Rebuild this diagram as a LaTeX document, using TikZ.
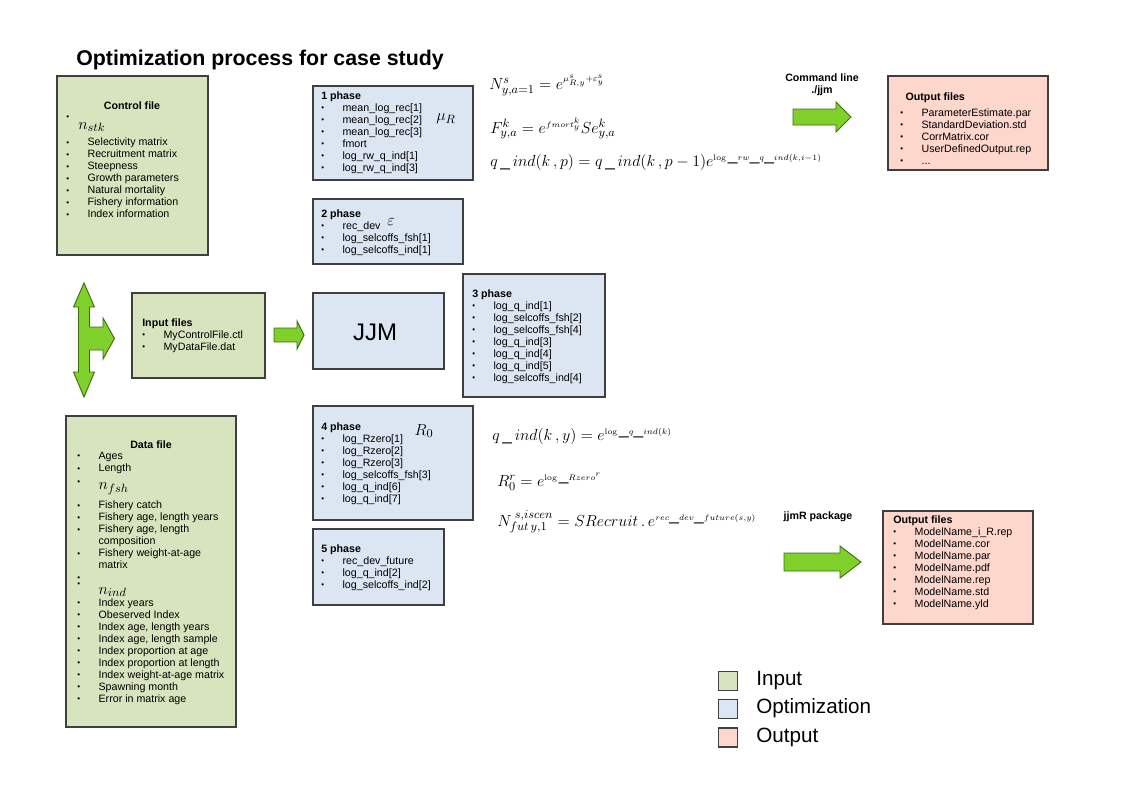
\documentclass[tikz,border=0pt]{standalone}
\usepackage[no-math]{fontspec}
\setmainfont{Liberation Sans}
\usetikzlibrary{fit}
\definecolor{ingreen}{HTML}{D7E4BD}
\definecolor{optblue}{HTML}{DCE6F2}
\definecolor{outpink}{HTML}{FDD6CC}
\definecolor{arrowfill}{HTML}{7FD02A}
\definecolor{arrowline}{HTML}{3D6E12}
\definecolor{boxline}{HTML}{3F3F3F}
\newcommand{\itm}[1]{\makebox[16pt][l]{\raisebox{.3pt}{\scalebox{.75}{\textbullet}}}#1}
\newcommand{\blt}[1]{\makebox[16pt][l]{\raisebox{#1}{\scalebox{.75}{\textbullet}}}}
\newcommand{\nsym}[1]{{\fontsize{13}{13}\selectfont$#1$}}
\newcommand{\ex}[1]{e^{\scriptscriptstyle #1}}

\begin{document}
\begin{tikzpicture}[x=0.75pt,y=-0.75pt,
	filebox/.style={draw=boxline,line width=0.9pt,inner sep=0pt},
	inbox/.style={filebox,fill=ingreen},
	optbox/.style={filebox,fill=optblue},
	outbox/.style={filebox,fill=outpink},
	% lists are placed by the baseline of their last line
	list/.style={anchor=base west,align=left,inner sep=0pt,font=\fontsize{8}{9}\selectfont},
	head/.style={anchor=base,align=center,inner sep=0pt,font=\bfseries\fontsize{8}{9}\selectfont},
	eq/.style={anchor=base west,inner sep=0pt,font=\fontsize{13}{13}\selectfont},
	sym/.style={inner sep=0pt,font=\fontsize{13}{13}\selectfont},
	fatarrow/.style={draw=arrowline,fill=arrowfill,line width=0.7pt,line join=miter},
	legsq/.style={minimum size=14.25pt},
	legtext/.style={anchor=base west,inner sep=0pt,font=\fontsize{15.5}{15.5}\selectfont}]
	\useasboundingbox (0,0) rectangle (1123,794);

	\node[anchor=base west,inner sep=0pt,font=\bfseries\fontsize{16}{16}\selectfont] (title) at (76,65) {Optimization process for case study};

	% input files
	\node[inbox,fit={(57,76) (208,255)}] (ctl) {};
	\node[head] (ctl-t) at (132,109) {Control file};
	\node[list] (ctl-l) at (66,217.7) {\blt{6.9pt}\hspace{-7pt}\nsym{n_{stk}}\\[3.5pt]
		\itm{Selectivity matrix}\\ \itm{Recruitment matrix}\\ \itm{Steepness}\\ \itm{Growth parameters}\\
		\itm{Natural mortality}\\ \itm{Fishery information}\\ \itm{Index information}};

	\node[inbox,fit={(66,416) (236,727)}] (dat) {};
	\node[head] (dat-t) at (151,448) {Data file};
	\node[list] (dat-l) at (77,702) {\itm{Ages}\\ \itm{Length}\\[4.8pt]
		\blt{3.9pt}\nsym{n_{fsh}}\\[3.5pt]
		\itm{Fishery catch}\\ \itm{Fishery age, length years}\\ \itm{Fishery age, length}\\ \hspace*{16pt}composition\\
		\itm{Fishery weight-at-age}\\ \hspace*{16pt}matrix\\ \itm{}\\[1pt]
		\blt{5.7pt}\nsym{n_{ind}}\\
		\itm{Index years}\\ \itm{Obeserved Index}\\ \itm{Index age, length years}\\ \itm{Index age, length sample}\\
		\itm{Index proportion at age}\\ \itm{Index proportion at length}\\ \itm{Index weight-at-age matrix}\\
		\itm{Spawning month}\\ \itm{Error in matrix age}};

	\node[inbox,fit={(132,293) (265,378)}] (inp) {};
	\node[list] (inp-l) at (142,350) {\textbf{Input files}\\ \itm{MyControlFile.ctl}\\ \itm{MyDataFile.dat}};

	% optimization
	\node[optbox,fit={(313,293) (444,369)}] (jjm) {};
	\node[inner sep=0pt,font=\fontsize{18}{18}\selectfont] (jjm-t) at (375,332) {JJM};

	\node[optbox,fit={(313,86) (473,180)}] (ph1) {};
	\node[list] (ph1-l) at (321,171) {\textbf{1 phase}\\ \itm{mean\_log\_rec[1]}\\ \itm{mean\_log\_rec[2]}\\ \itm{mean\_log\_rec[3]}\\
		\itm{fmort}\\ \itm{log\_rw\_q\_ind[1]}\\ \itm{log\_rw\_q\_ind[3]}};
	\node[sym] (ph1-s) at (446,119) {$\mu_R$};

	\node[optbox,fit={(313,199) (463,264)}] (ph2) {};
	\node[list] (ph2-l) at (321,253) {\textbf{2 phase}\\ \itm{rec\_dev}\\ \itm{log\_selcoffs\_fsh[1]}\\ \itm{log\_selcoffs\_ind[1]}};
	\node[sym] (ph2-s) at (391,222) {$\varepsilon$};

	\node[optbox,fit={(463,274) (605,397)}] (ph3) {};
	\node[list] (ph3-l) at (472,381) {\textbf{3 phase}\\ \itm{log\_q\_ind[1]}\\ \itm{log\_selcoffs\_fsh[2]}\\ \itm{log\_selcoffs\_fsh[4]}\\
		\itm{log\_q\_ind[3]}\\ \itm{log\_q\_ind[4]}\\ \itm{log\_q\_ind[5]}\\ \itm{log\_selcoffs\_ind[4]}};

	\node[optbox,fit={(313,406) (473,520)}] (ph4) {};
	\node[list] (ph4-l) at (321,502) {\textbf{4 phase}\\ \itm{log\_Rzero[1]}\\ \itm{log\_Rzero[2]}\\ \itm{log\_Rzero[3]}\\
		\itm{log\_selcoffs\_fsh[3]}\\ \itm{log\_q\_ind[6]}\\ \itm{log\_q\_ind[7]}};
	\node[sym] (ph4-s) at (424,431) {$R_0$};

	\node[optbox,fit={(313,529) (444,605)}] (ph5) {};
	\node[list] (ph5-l) at (321,588) {\textbf{5 phase}\\ \itm{rec\_dev\_future}\\ \itm{log\_q\_ind[2]}\\ \itm{log\_selcoffs\_ind[2]}};

	% equations
	\node[eq] (eq1) at (489,89) {$N^{s}_{y,a=1}=\ex{\mu^{s}_{R,y}+\varepsilon^{s}_{y}}$};
	\node[eq] (eq2) at (490,133) {$F^{k}_{y,a}=\ex{fmort^{k}_{y}}Se^{k}_{y,a}$};
	\node[eq] (eq3) at (490,166) {$q\,\_\,ind(k\,,p)=q\,\_\,ind(k\,,p-1)\ex{\log\_rw\_q\_ind(k,i-1)}$};
	\node[eq] (eq4) at (492,440) {$q\,\_\,ind(k\,,y)=\ex{\log\_q\_ind(k)}$};
	\node[eq] (eq5) at (497,486) {$R^{r}_{0}=\ex{\log\_Rzero^{r}}$};
	\node[eq] (eq6) at (497,526) {$N_{fut\,y,1}^{\;s,iscen}=SRecruit\,.\,\ex{rec\_dev\_future(s,y)}$};

	% output files
	\node[head] (cmd) at (822,93) {Command line\\./jjm};
	\node[outbox,fit={(888,76) (1048,170)}] (outa) {};
	\node[list] (outa-l) at (900,164) {\hspace*{4pt}\textbf{Output files}\\[2.3pt] \itm{ParameterEstimate.par}\\ \itm{StandardDeviation.std}\\
		\itm{CorrMatrix.cor}\\ \itm{UserDefinedOutput.rep}\\ \itm{...}};

	\node[head] (jjmr) at (818,519) {jjmR package};
	\node[outbox,fit={(883,511) (1033,624)}] (outb) {};
	\node[list] (outb-l) at (893,607) {\textbf{Output files}\\ \itm{ModelName\_i\_R.rep}\\ \itm{ModelName.cor}\\ \itm{ModelName.par}\\
		\itm{ModelName.pdf}\\ \itm{ModelName.rep}\\ \itm{ModelName.std}\\ \itm{ModelName.yld}};

	% block arrows
	\draw[fatarrow] (84,283) -- (94.5,307) -- (89.5,307) -- (89.5,327) -- (103,327) -- (103,318) -- (114.5,338.5)
		-- (103,359) -- (103,350) -- (89.5,350) -- (89.5,372) -- (94.5,372) -- (84,397) -- (73.5,372)
		-- (78.5,372) -- (78.5,307) -- (73.5,307) -- cycle;
	\draw[fatarrow] (274,328) -- (297,328) -- (297,321) -- (304,335) -- (297,349) -- (297,342) -- (274,342) -- cycle;
	\draw[fatarrow] (793,109) -- (836,109) -- (836,102) -- (851,117) -- (836,132) -- (836,125) -- (793,125) -- cycle;
	\draw[fatarrow] (784,553) -- (840,553) -- (840,546) -- (861,562) -- (840,578) -- (840,571) -- (784,571) -- cycle;

	% legend
	\node[inbox,legsq] (leg-in) at (728,681) {};
	\node[optbox,legsq] (leg-opt) at (728,709) {};
	\node[outbox,legsq] (leg-out) at (728,737.5) {};
	\node[legtext] (leg-in-t) at (756,685) {Input};
	\node[legtext] (leg-opt-t) at (756,713.5) {Optimization};
	\node[legtext] (leg-out-t) at (756,742) {Output};
\end{tikzpicture}
\end{document}
